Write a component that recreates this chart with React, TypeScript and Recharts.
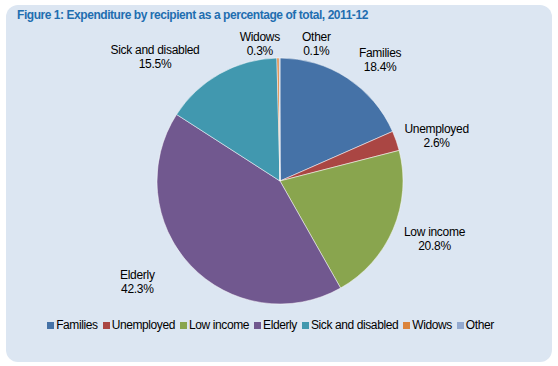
import React from 'react';
import { PieChart, Pie, Cell } from 'recharts';

const recipients = ['Families', 'Unemployed', 'Low income', 'Elderly', 'Sick and disabled', 'Widows', 'Other'];
const shares = [18.4, 2.6, 20.8, 42.3, 15.5, 0.3, 0.1];
const sliceColors = ['#4572a7', '#aa4643', '#89a54e', '#71588f', '#4198af', '#db843d', '#93a9cf'];

const data = recipients.map((name, i) => ({ name, value: shares[i] }));

// label placement (Excel "best fit" style): angle nudge in degrees and distance beyond outer radius
const labelNudge = [
  { dAngle: -6.5, extra: 34 },
  { dAngle: -3, extra: 40 },
  { dAngle: 2.5, extra: 42 },
  { dAngle: -8, extra: 52 },
  { dAngle: 15.9, extra: 53 },
  { dAngle: 7.5, extra: 15 },
  { dAngle: -15, extra: 19 },
];

const RADIAN = Math.PI / 180;
const FONT = '"Liberation Sans", Arial, sans-serif';

const renderLabel = (props: any) => {
  const { cx, cy, midAngle, outerRadius, index } = props;
  const n = labelNudge[index];
  const a = (midAngle + n.dAngle) * RADIAN;
  const r = outerRadius + n.extra;
  const x = cx + r * Math.cos(a);
  const y = cy - r * Math.sin(a);
  return (
    <text x={x} y={y} textAnchor="middle" fontSize={12} fill="#000" fontFamily={FONT} letterSpacing={-0.3}>
      <tspan x={x} dy={-3}>{recipients[index]}</tspan>
      <tspan x={x} dy={14}>{shares[index].toFixed(1)}%</tspan>
    </text>
  );
};

export default function App() {
  return (
    <div style={{ position: 'absolute', left: 0, top: 0, width: 558, height: 366, background: '#fff' }}>
      <div
        style={{
          position: 'absolute',
          left: 6,
          top: 5,
          width: 546,
          height: 357,
          background: '#dce6f2',
          borderRadius: 12,
        }}
      />
      <div
        style={{
          position: 'absolute',
          left: 17,
          top: 8,
          fontFamily: FONT,
          fontWeight: 'bold',
          fontSize: 12,
          color: '#1f6eb0',
          letterSpacing: -0.45,
        }}
      >
        Figure 1: Expenditure by recipient as a percentage of total, 2011-12
      </div>
      <div style={{ position: 'absolute', left: 0, top: 0 }}>
        <PieChart width={558} height={366} margin={{ top: 0, right: 0, bottom: 0, left: 0 }}>
          <Pie
            data={data}
            dataKey="value"
            nameKey="name"
            cx={280}
            cy={181}
            outerRadius={123}
            startAngle={90}
            endAngle={-270}
            stroke="#ffffff"
            strokeWidth={0.5}
            label={renderLabel}
            labelLine={false}
            isAnimationActive={false}
          >
            {data.map((d, i) => (
              <Cell key={d.name} fill={sliceColors[i]} />
            ))}
          </Pie>
        </PieChart>
      </div>
      {/* legend */}
      <div
        style={{
          position: 'absolute',
          left: 0,
          top: 318,
          width: 546,
          display: 'flex',
          justifyContent: 'center',
          fontFamily: FONT,
          fontSize: 12,
          color: '#000',
          letterSpacing: -0.4,
        }}
      >
        {recipients.map((name, i) => (
          <div key={name} style={{ display: 'flex', alignItems: 'center', marginRight: 5 }}>
            <span style={{ width: 7, height: 7, background: sliceColors[i], marginRight: 2, display: 'inline-block' }} />
            <span>{name}</span>
          </div>
        ))}
      </div>
    </div>
  );
}
